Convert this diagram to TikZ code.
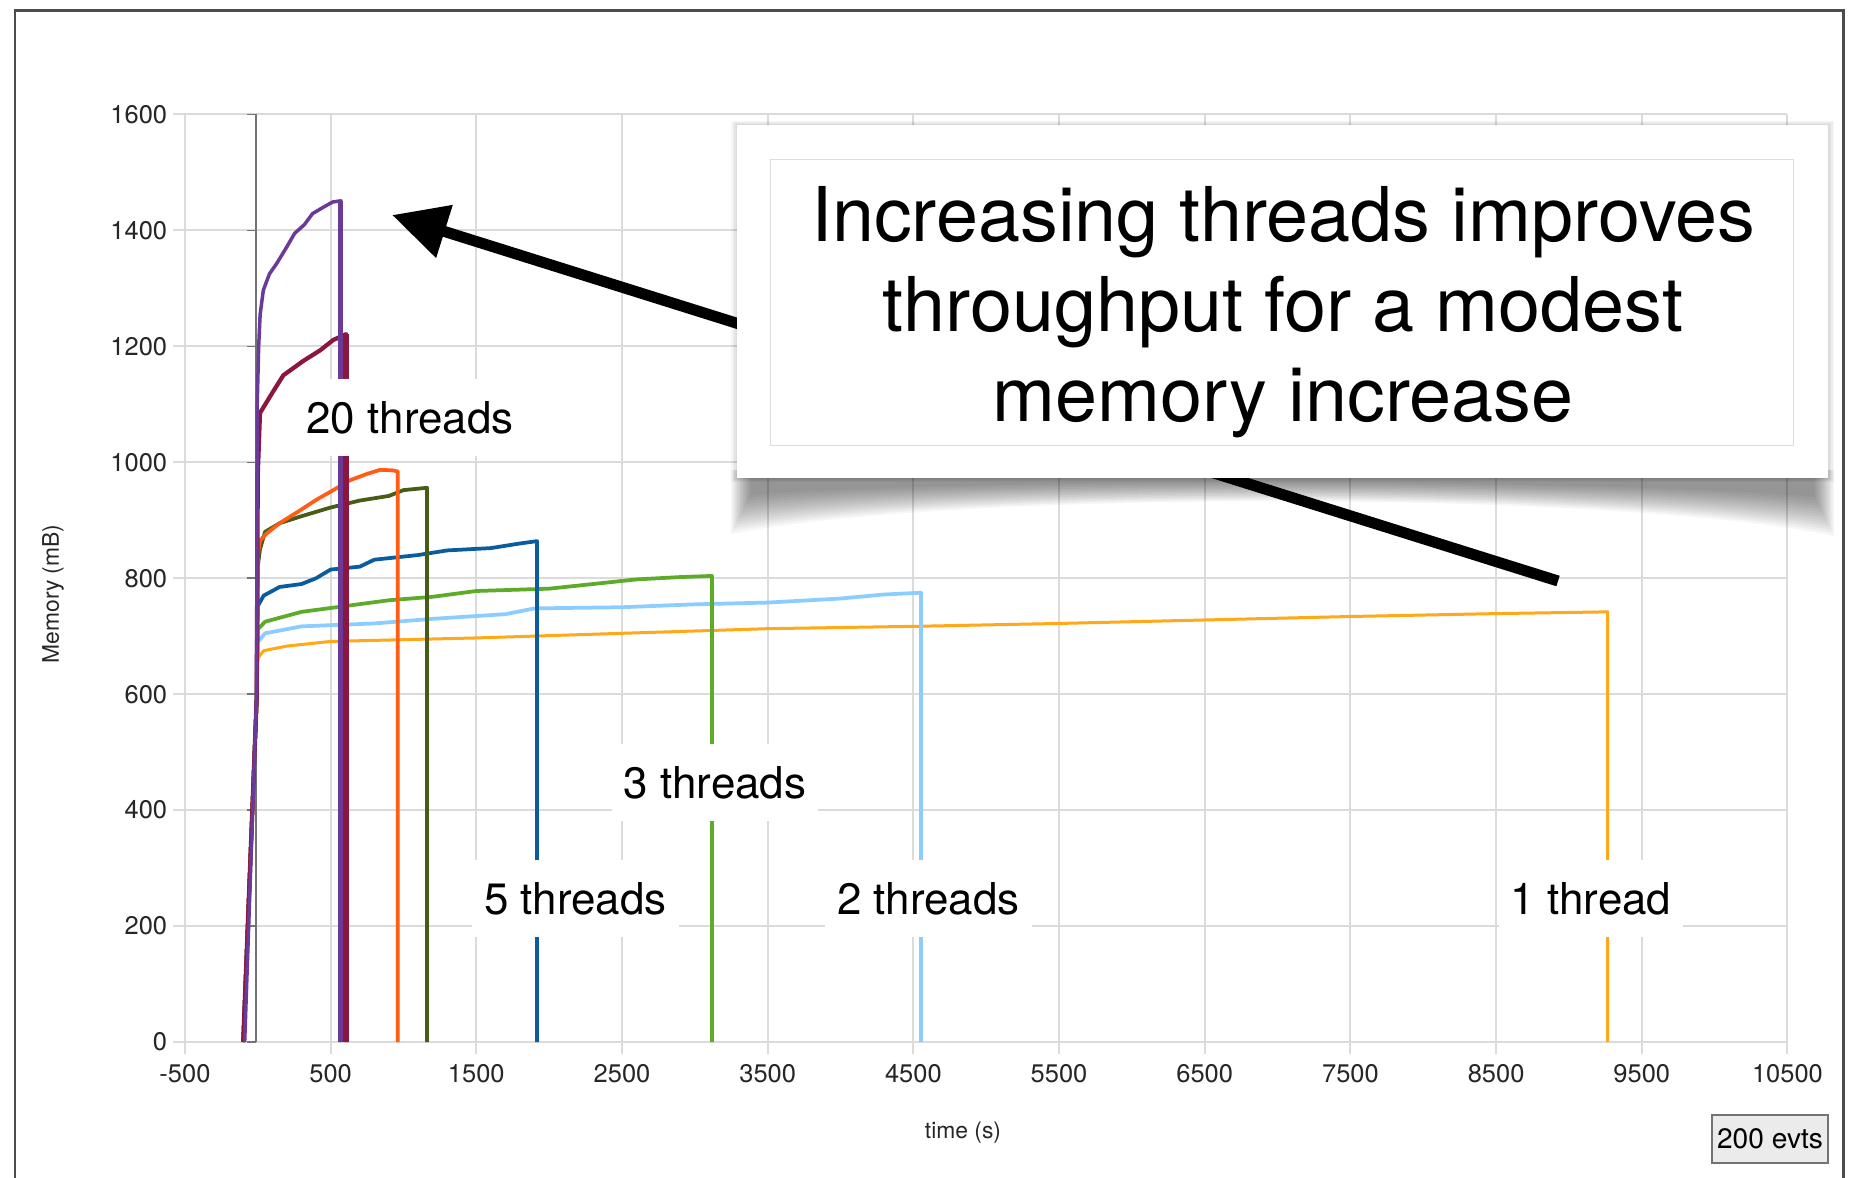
\documentclass[tikz,border=0pt]{standalone}
\usepackage{fontspec}
\setmainfont{TeX Gyre Heros}
\usepackage{tikz}
\usetikzlibrary{arrows.meta}
\definecolor{onethread}{RGB}{255,168,24}
\definecolor{skyblue}{RGB}{140,205,255}
\definecolor{leafgreen}{RGB}{92,172,42}
\definecolor{deepblue}{RGB}{10,92,160}
\definecolor{olivegreen}{RGB}{72,92,22}
\definecolor{redorange}{RGB}{255,92,22}
\definecolor{darkmaroon}{RGB}{140,22,62}
\definecolor{plotpurple}{RGB}{106,58,152}

\begin{document}
\begin{tikzpicture}[x=0.02cm, y=-0.02cm,
    gridline/.style={draw=black!14, line width=0.04cm},
    axisline/.style={draw=black!55, line width=0.03cm},
    ticklabel/.style={font=\fontsize{14.5}{17}\selectfont, text=black!85, inner sep=0pt},
    axistitle/.style={font=\fontsize{13}{15}\selectfont, text=black!85, inner sep=0pt},
    series/.style={line width=0.075cm, line join=round},
    serieslabel/.style={fill=white, inner xsep=0.24cm, inner ysep=0.44cm, anchor=base,
                        font=\fontsize{25}{30}\selectfont},
    callout/.style={fill=white, minimum width=21.82cm, minimum height=7.06cm, inner sep=0pt},
    calloutframe/.style={draw=black!13, line width=0.02cm, minimum width=20.48cm,
                         minimum height=5.74cm, inner sep=0pt},
    callouttext/.style={align=center, inner sep=0pt, font=\fontsize{43}{51.2}\selectfont},
    bigarrow/.style={line width=0.22cm, -{Triangle[length=1.1cm, width=1.05cm]}}
]
    \useasboundingbox (0,0) rectangle (1851,1177);
    \clip (0,0) rectangle (1851,1177);
    \fill[white] (0,0) rectangle (1851,1177);

    % chart in data units (time, memory)
    \begin{scope}[shift={(257.8,1042)}, x=0.0029128cm, y=0.0116cm]
        \foreach \t [count=\i] in {-500,500,...,10500} {
            \draw[gridline] (\t,-20) -- (\t,1600);
            \node[ticklabel] (xt\i) at (\t,-54) {\t};
        }
        \foreach \m [count=\i] in {0,200,...,1600} {
            \draw[gridline] (-580,\m) -- (10500,\m);
            \node[ticklabel, anchor=east] (yt\i) at (-620,\m) {\m};
            \draw[axisline] (-75,\m) -- (-12,\m);
        }
        \draw[axisline] (-12,0) -- (-12,1600);

        % one line per run
        \draw[series, onethread, line width=0.06cm] plot coordinates {(-100,0) (-8,590) (0,662) (40,675)
            (200,683) (500,691) (1500,697) (2500,705) (3500,713) (4500,717) (5500,722) (6500,728)
            (7500,734) (8500,739) (9266,742) (9266,0)};
        \draw[series, skyblue] plot coordinates {(-100,0) (-8,590) (0,690) (50,705) (300,717) (800,722)
            (1200,730) (1700,738) (1900,748) (2500,750) (3000,755) (3500,758) (4000,765) (4300,772)
            (4552,775) (4552,0)};
        \draw[series, leafgreen] plot coordinates {(-100,0) (-8,590) (0,712) (50,725) (300,742) (600,752)
            (900,762) (1200,768) (1500,778) (2000,782) (2300,790) (2600,798) (2900,802) (3117,804)
            (3117,0)};
        \draw[series, deepblue] plot coordinates {(-100,0) (-8,590) (0,752) (40,770) (150,785) (300,790)
            (400,800) (500,815) (700,820) (800,832) (1100,840) (1300,848) (1600,852) (1800,860)
            (1917,864) (1917,0)};
        \draw[series, olivegreen] plot coordinates {(-100,0) (-8,590) (0,820) (15,850) (50,880) (150,895)
            (300,907) (500,922) (700,934) (900,942) (1000,952) (1162,956) (1162,0)};
        \draw[series, redorange] plot coordinates {(-100,0) (-8,590) (0,840) (15,865) (60,877) (150,895)
            (290,917) (400,935) (518,952) (633,969) (750,980) (840,987) (930,986) (961,984) (961,0)};
        \draw[series, darkmaroon, line width=0.085cm] plot coordinates {(-100,0) (-8,590) (0,980)
            (15,1085) (100,1120) (175,1150) (313,1175) (427,1193) (518,1211) (606,1221) (606,0)};
        \draw[series, plotpurple, line width=0.07cm] plot coordinates {(-90,0) (-8,600) (-4,1100) (6,1200)
            (16,1255) (38,1297) (80,1325) (130,1343) (200,1372) (253,1395) (320,1410) (376,1429)
            (450,1440) (514,1449) (571,1451) (571,0)};
        \draw[darkmaroon, line width=0.11cm] (606,1221) -- (606,0);
        \draw[plotpurple, line width=0.1cm] (571,1451) -- (571,0);
    \end{scope}

    % arrow behind the callout
    \coordinate (arrowtail) at (1558,581);
    \coordinate (arrowtip) at (392,215);
    \draw[bigarrow] (arrowtail) -- (arrowtip);

    % curled shadow and callout
    \foreach \k in {0,...,13}
        \fill[black, opacity=0.035] (731+1.5*\k,470) -- (731+1.5*\k,534-3*\k)
            .. controls (950,490-0.9*\k) and (1616,490-0.9*\k) .. (1834-1.5*\k,536-3*\k)
            -- (1834-1.5*\k,470) -- cycle;
    \foreach \k in {1,...,4}
        \fill[black, opacity=0.035] (737-1.5*\k,125-\k) rectangle (1828+1.5*\k,478+\k);
    \node[callout] (callout) at (1282.5,301.5) {};
    \node[calloutframe] (calloutframe) at (1282,302.5) {};
    \node[callouttext] (callouttext) at (1283,312.5)
        {Increasing threads improves\\throughput for a modest\\memory increase};

    % run labels
    \node[serieslabel] (twenty) at (410,433) {20 threads};
    \node[serieslabel] (three) at (715,798) {3 threads};
    \node[serieslabel] (five) at (575.5,914) {5 threads};
    \node[serieslabel] (two) at (928.5,914) {2 threads};
    \node[serieslabel] (one) at (1591,914) {1 thread};

    % axis titles, frame, event count
    \node[axistitle, rotate=90] (ytitle) at (53,594) {Memory (mB)};
    \node[axistitle] (xtitle) at (963,1133) {time (s)};
    \draw[black!70, line width=0.06cm] (15,10) rectangle (1843,1220);
    \node[draw=black!55, line width=0.05cm, fill=black!8, minimum width=2.32cm, minimum height=0.96cm,
          inner sep=0pt, font=\fontsize{16}{18}\selectfont] (evts) at (1770,1139) {200 evts};
\end{tikzpicture}
\end{document}
